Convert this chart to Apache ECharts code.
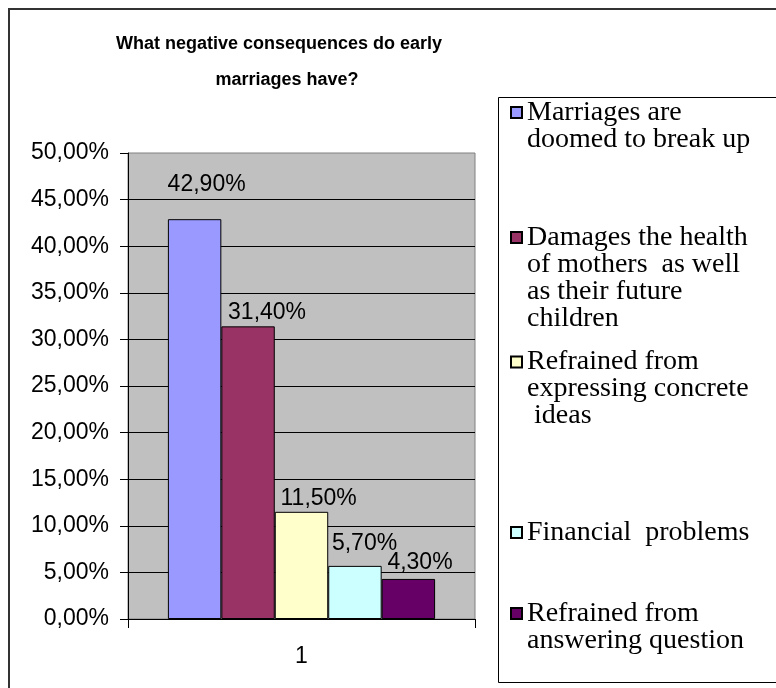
<!DOCTYPE html>
<html>
<head>
<meta charset="utf-8">
<script src="https://cdn.jsdelivr.net/npm/echarts@6/dist/echarts.min.js"></script>
<style>
html,body{margin:0;padding:0;background:#fff;}
#chart{width:776px;height:688px;}
</style>
</head>
<body>
<div id="chart"></div>
<script>
// ---- data ----
const titleLines = ['What negative consequences do early', 'marriages have?'];
const categories = ['1'];
const seriesNames = [
  'Marriages are\ndoomed to break up',
  'Damages the health\nof mothers  as well\nas their future\nchildren',
  'Refrained from\nexpressing concrete\n ideas',
  'Financial  problems',
  'Refrained from\nanswering question'
];
const seriesValues = [42.9, 31.4, 11.5, 5.7, 4.3];   // percent
const yTicks = [0, 5, 10, 15, 20, 25, 30, 35, 40, 45, 50];

// ---- styles ----
const colors = ['#9999FF', '#993366', '#FFFFCC', '#CCFFFF', '#660066'];
const labelOffsets = [[-27, -23], [-20, -2], [-21, -2], [-23, -11], [-21, -5]];
const legendIconCenters = [112, 237, 361.5, 532, 613];
const LEG_FONT = 28, LEG_LH = 27;

const fmtPct = v => Number(v).toFixed(2).replace('.', ',') + '%';

const series = seriesNames.map((name, i) => ({
  name: name,
  type: 'bar',
  barGap: '0%',
  barCategoryGap: '23%',
  data: [seriesValues[i]],
  itemStyle: { color: colors[i], borderColor: '#000', borderWidth: 1 },
  label: {
    show: true,
    position: 'top',
    distance: 0,
    align: 'left',
    offset: labelOffsets[i],
    formatter: p => fmtPct(p.value),
    fontFamily: 'Liberation Sans, Arial, sans-serif',
    fontSize: 23,
    color: '#000'
  }
}));

// each legend entry: the icon lines up with the first text line
const legends = seriesNames.map((name, i) => {
  const n = name.split('\n').length;
  const top = legendIconCenters[i] - (2 * n - 1) * LEG_LH / 2;
  return {
    orient: 'vertical',
    left: 510,
    top: top,
    padding: 0,
    itemWidth: 11,
    itemHeight: 11,
    icon: 'rect',
    selectedMode: false,
    data: [{ name: name }],
    formatter: nm => '\n'.repeat(n - 1) + nm,
    textStyle: {
      fontFamily: 'Liberation Serif, Times New Roman, serif',
      fontSize: LEG_FONT,
      lineHeight: LEG_LH,
      color: '#000'
    }
  };
});

const chart = echarts.init(document.getElementById('chart'), null, { renderer: 'canvas' });
chart.setOption({
  animation: false,
  backgroundColor: '#fff',
  title: [
    { text: titleLines[0], left: 279, top: 35, textAlign: 'center', padding: 0,
      textStyle: { fontFamily: 'Liberation Sans, Arial, sans-serif', fontWeight: 'bold', fontSize: 18, color: '#000' } },
    { text: titleLines[1], left: 287, top: 71, textAlign: 'center', padding: 0,
      textStyle: { fontFamily: 'Liberation Sans, Arial, sans-serif', fontWeight: 'bold', fontSize: 18, color: '#000' } }
  ],
  legend: legends,
  graphic: [
    { type: 'rect', silent: true, z: -10, shape: { x: 9, y: 9, width: 800, height: 700 },
      style: { fill: 'none', stroke: '#333', lineWidth: 2 } },
    { type: 'rect', silent: true, z: -10, shape: { x: 498.5, y: 97.5, width: 320, height: 585 },
      style: { fill: '#fff', stroke: '#000', lineWidth: 1 } }
  ],
  grid: {
    left: 128, top: 153, width: 347, height: 466,
    show: true, backgroundColor: '#C0C0C0', borderColor: '#808080', borderWidth: 1
  },
  xAxis: {
    type: 'category',
    data: categories,
    axisLine: { show: true, lineStyle: { color: '#000', width: 1 } },
    axisTick: { show: true, length: 9, lineStyle: { color: '#000' } },
    axisLabel: { margin: 26, fontFamily: 'Liberation Sans, Arial, sans-serif', fontSize: 23, color: '#000' },
    splitLine: { show: false }
  },
  yAxis: {
    type: 'value',
    min: yTicks[0],
    max: yTicks[yTicks.length - 1],
    interval: yTicks[1] - yTicks[0],
    axisLine: { show: true, lineStyle: { color: '#000', width: 1 } },
    axisTick: { show: true, length: 8, lineStyle: { color: '#000' } },
    axisLabel: { margin: 19, formatter: v => fmtPct(v), fontFamily: 'Liberation Sans, Arial, sans-serif', fontSize: 23, color: '#000' },
    splitLine: { show: true, showMaxLine: false, lineStyle: { color: '#000', width: 1 } }
  },
  series: series
});
</script>
</body>
</html>
